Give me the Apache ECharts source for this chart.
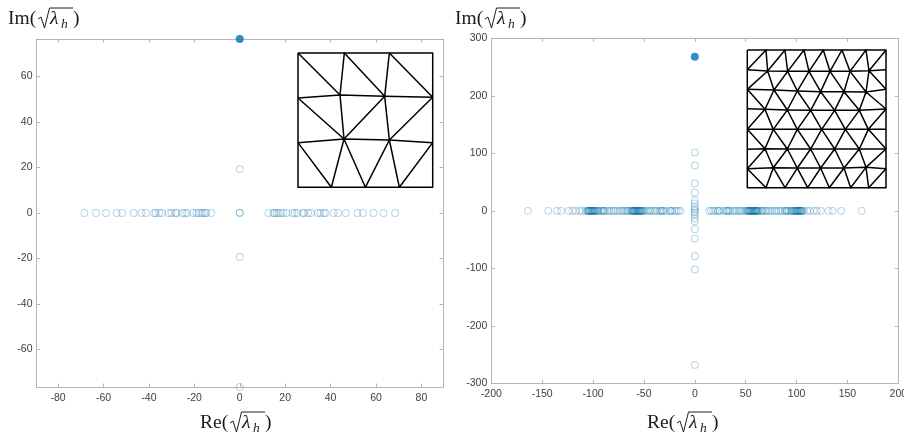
<!DOCTYPE html>
<html><head><meta charset="utf-8">
<style>html,body{margin:0;padding:0;background:#fff}#c{width:904px;height:434px}</style>
<script src="https://cdn.jsdelivr.net/npm/echarts@6/dist/echarts.min.js"></script>
</head><body><div id="c"></div>
<script>
// Left panel values
const leftRealNeg = [-68.4,-63.3,-58.9,-54.2,-51.8,-46.7,-43.3,-41.3,-37.7,-37,-35.5,-34.4,-31.3,-30.1,-28.3,-27.8,-25.3,-24.2,-23.2,-20.6,-19.1,-18.1,-17,-16.2,-15.3,-14.7,-12.6];
const leftRealPos = [12.6,14.7,15.3,16.2,17,18.1,19.1,20.6,23.2,24.2,25.3,27.8,28.3,30.1,31.3,34.4,35.5,37,37.7,41.3,43.3,46.7,51.8,54.2,58.9,63.3,68.4];
const leftImag = [0,0.2,19.3,-19.3,-76.5];
const leftTop = 76.5;
const leftXTicks = [-80,-60,-40,-20,0,20,40,60,80];
const leftYTicks = [-60,-40,-20,0,20,40,60];
// Right panel values
const rightRealPos = [164,144,135.5,131.5,124,120,117,113,110.5,107,105.5,105,104.5,104,103.5,103,102.5,102,101.5,101,100.5,100,99.5,99,98.5,98,97,96,95,94.5,92.5,91,90,89.5,88.5,86,84,82,80,78.5,76,74,72,70.5,69,67,66,65,63,62,61.5,61,60.5,60,59.5,59,58.5,58,57.5,57,56.5,56,55.5,55,54.5,54,53.5,53,52.5,52,51,50,48,46,44.5,43,41,39,37.5,35,33.5,32.5,31.5,30.5,28,24.5,23.5,22.5,20,18,16,14];
const rightRealNeg = [-164,-144,-135.5,-131.5,-124,-120,-117,-113,-110.5,-107,-105.5,-105,-104.5,-104,-103.5,-103,-102.5,-102,-101.5,-101,-100.5,-100,-99.5,-99,-98.5,-98,-97,-96,-95,-94.5,-92.5,-91,-90,-89.5,-88.5,-86,-84,-82,-80,-78.5,-76,-74,-72,-70.5,-69,-67,-66,-65,-63,-62,-61.5,-61,-60.5,-60,-59.5,-59,-58.5,-58,-57.5,-57,-56.5,-56,-55.5,-55,-54.5,-54,-53.5,-53,-52.5,-52,-51,-50,-48,-46,-44.5,-43,-41,-39,-37.5,-35,-33.5,-32.5,-31.5,-30.5,-28,-24.5,-23.5,-22.5,-20,-18,-16,-14];
const rightImag = [101.5,79,47.5,31.5,18,13,7,3,0,-3,-7,-13,-18,-32,-48,-79,-102,-268];
const rightTop = 268;
const rightXTicks = [-200,-150,-100,-50,0,50,100,150,200];
const rightYTicks = [-300,-200,-100,0,100,200,300];
// Mesh drawn in the insets
const coarseVerts = [[24,24],[163,24],[298,24],[428,24],[24,159],[150,150],[284,154],[428,157],[24,293],[162,282],[298,285],[428,293],[24,427],[124,427],[226,427],[328,427],[428,427]];
const coarsePaths = [[0,1,2,3,7,11,16,15,14,13,12,8,4,0],[4,5,6,7],[8,9,10,11],[0,5,1,6,2,7],[4,9,6,10,7],[5,9],[8,13,9,14,10,15,11]];
const fineVerts = [
 [22,24],[78,24],[135,24],[192,24],[250,24],[306,24],[378,24],[438,24],
 [22,83],[83,87],[143,88],[207,88],[270,88],[330,88],[387,86],[438,83],
 [22,142],[102,144],[172,147],[242,149],[312,149],[378,150],[438,142],
 [22,200],[75,202],[142,204],[212,205],[284,205],[358,205],[438,201],
 [22,262],[100,262],[172,262],[245,262],[316,262],[385,262],[438,262],
 [22,322],[75,320],[142,321],[212,321],[284,321],[358,321],[438,321],
 [22,380],[100,377],[172,378],[242,378],[312,378],[378,376],[438,380],
 [22,437],[78,437],[135,437],[203,437],[268,437],[332,437],[386,437],[438,437]];
const finePaths = [
 [0,1,2,3,4,5,6,7,15,22,29,36,43,50,58,57,56,55,54,53,52,51,44,37,30,23,16,8,0],
 [8,9,10,11,12,13,14,15],[16,17,18,19,20,21,22],[23,24,25,26,27,28,29],[30,31,32,33,34,35,36],[37,38,39,40,41,42,43],[44,45,46,47,48,49,50],
 [8,1,9,2,10,3,11,4,12,5,13,6,14,7],
 [16,9,17,10,18,11,19,12,20,13,21,14,22],
 [16,24,17,25,18,26,19,27,20,28,21,29],
 [30,24,31,25,32,26,33,27,34,28,35,29],
 [30,38,31,39,32,40,33,41,34,42,35,43],
 [44,38,45,39,46,40,47,41,48,42,49,43],
 [44,52,45,53,46,54,47,55,48,56,49,57,50]];

const RING='rgba(0,114,170,0.36)', FILL='#0072BD', BOX='#b4b4b4', TXT='#404040';
const FONT='"Liberation Sans",Arial,sans-serif', SERIF='"Liberation Serif",serif';

function axis(kind,grid,pos,min,max,ticks,labels){
  return {type:'value',gridIndex:grid,position:pos,min,max,scale:false,
    axisLine:{show:true,onZero:false,lineStyle:{color:BOX,width:1}},
    axisTick:{show:true,inside:true,length:3.5,customValues:ticks,lineStyle:{color:BOX,width:1}},
    axisLabel:{show:labels,customValues:ticks,color:TXT,fontSize:10.5,fontFamily:FONT,margin:kind==='x'?5.5:4,hideOverlap:false},
    splitLine:{show:false}};
}
const hidden=(grid,min,max,inv)=>({type:'value',gridIndex:grid,show:false,min,max,inverse:!!inv,splitLine:{show:false}});

const xAxis=[
 axis('x',0,'bottom',-89.5,89.5,leftXTicks,true),
 axis('x',0,'top',-89.5,89.5,leftXTicks,false),
 axis('x',1,'bottom',-200,200,rightXTicks,true),
 axis('x',1,'top',-200,200,rightXTicks,false),
 hidden(2,24,428),hidden(3,22,438)];
const yAxis=[
 axis('y',0,'left',-76.5,76.5,leftYTicks,true),
 axis('y',0,'right',-76.5,76.5,leftYTicks,false),
 axis('y',1,'left',-300,300,rightYTicks,true),
 axis('y',1,'right',-300,300,rightYTicks,false),
 hidden(2,24,427,true),hidden(3,24,437,true)];
const grid=[
 {left:36.5,top:39,width:406.5,height:348,outerBoundsMode:'none'},
 {left:491.3,top:38.3,width:407,height:345,outerBoundsMode:'none'},
 {left:298,top:53,width:134.7,height:134.3,outerBoundsMode:'none'},
 {left:747.3,top:50,width:138.7,height:137.7,outerBoundsMode:'none'}];

const rings=(xi,yi,d)=>({type:'scatter',xAxisIndex:xi,yAxisIndex:yi,data:d,symbol:'circle',symbolSize:6.8,clip:false,silent:true,
  itemStyle:{color:'rgba(0,0,0,0)',borderColor:RING,borderWidth:1}});
const dot=(xi,yi,d)=>({type:'scatter',xAxisIndex:xi,yAxisIndex:yi,data:d,symbol:'circle',symbolSize:8,clip:false,silent:true,z:5,
  itemStyle:{color:FILL}});
const meshSeries=(verts,paths,xi,yi)=>paths.map(p=>({type:'line',xAxisIndex:xi,yAxisIndex:yi,data:p.map(i=>verts[i]),
  showSymbol:false,symbol:'none',silent:true,clip:false,z:6,lineStyle:{color:'#000',width:1.5,join:'round'}}));
const onReal=a=>a.map(v=>[v,0]), onImag=a=>a.map(v=>[0,v]);

const series=[
 rings(0,0,onReal(leftRealNeg)),rings(0,0,onReal(leftRealPos)),rings(0,0,onImag(leftImag)),dot(0,0,[[0,leftTop]]),
 rings(2,2,onReal(rightRealNeg)),rings(2,2,onReal(rightRealPos)),rings(2,2,onImag(rightImag)),dot(2,2,[[0,rightTop]]),
 ...meshSeries(coarseVerts,coarsePaths,4,4),
 ...meshSeries(fineVerts,finePaths,5,5)];

function mathLabel(word,x,base){
  const c='#1c1c1c';
  const t=(text,dx,size,y,italic)=>({type:'text',silent:true,style:{text,x:x+dx,y:y+size*0.22,fill:c,
     font:(italic?'italic ':'')+size+'px '+SERIF,textAlign:'left',verticalAlign:'bottom'}});
  const top=base-17;
  return [
    t(word+'(',0,19.5,base,false),
    {type:'polyline',silent:true,shape:{points:[[x+30,base-6],[x+33,base-8],[x+36.5,base+3],[x+41.5,top],[x+65,top]]},
      style:{stroke:c,lineWidth:1,fill:null}},
    t('\u03bb',42,19.5,base,true),
    t('h',53,13.5,base+3,true),
    t(')',65,19.5,base,false)];
}
const graphic=[].concat(mathLabel('Im',8,25),mathLabel('Im',455,25),mathLabel('Re',200,429),mathLabel('Re',647,429));

const chart=echarts.init(document.getElementById('c'),null,{renderer:'canvas'});
chart.setOption({animation:false,backgroundColor:'#fff',grid,xAxis,yAxis,series,graphic});
</script></body></html>
